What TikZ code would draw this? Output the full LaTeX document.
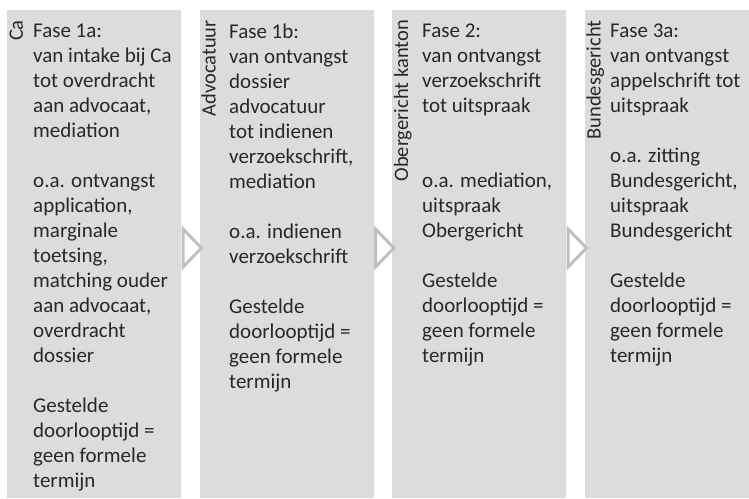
\documentclass[tikz,border=0pt]{standalone}
\usepackage{fontspec}
\setmainfont{Carlito}
\usepackage{tikz}
\usetikzlibrary{positioning, calc}
\definecolor{PhaseGrey}{RGB}{219,220,222}
\definecolor{ChevronGrey}{RGB}{192,192,192}
\definecolor{TextGrey}{RGB}{40,40,40}

\tikzset{
  phasetext/.style={anchor=north west, inner sep=0pt, align=left, text=TextGrey,
    font=\fontsize{21}{25}\selectfont},
  sidelabel/.style={rotate=90, anchor=base east, inner sep=0pt, text=TextGrey,
    font=\fontsize{20.5}{25}\selectfont},
  chevron/.style={draw=ChevronGrey, line width=3pt, line join=miter}
}

\begin{document}
\begin{tikzpicture}[x=1pt, y=1pt]
    \useasboundingbox (0,0) rectangle (749,498);

    % === Column 1 (Ca) ===
    \begin{scope}[shift={(7,0)}]
        \fill[PhaseGrey] (0,0) rectangle (174,488);
        \node[sidelabel] (ca) at (16,478) {Ca};
        \node[phasetext] (fase1a) at (26,474) {Fase 1a:\\van intake bij Ca\\tot overdracht\\aan advocaat,\\mediation\\[25pt]
            o.a. ontvangst\\application,\\marginale\\toetsing,\\matching ouder\\aan advocaat,\\overdracht\\dossier\\[25pt]
            Gestelde\\doorlooptijd =\\geen formele\\termijn};
    \end{scope}

    % === Column 2 (Advocatuur) ===
    \begin{scope}[shift={(199.5,0)}]
        \fill[PhaseGrey] (0,0) rectangle (174,488);
        \node[sidelabel] (advocatuur) at (16,478) {Advocatuur};
        \node[phasetext] (fase1b) at (29.5,474) {Fase 1b:\\van ontvangst\\dossier\\advocatuur\\tot indienen\\verzoekschrift,\\mediation\\[25pt]
            o.a. indienen\\verzoekschrift\\[25pt]
            Gestelde\\doorlooptijd =\\geen formele\\termijn};
    \end{scope}

    % === Column 3 (Obergericht kanton) ===
    \begin{scope}[shift={(392,0)}]
        \fill[PhaseGrey] (0,0) rectangle (174,488);
        \node[sidelabel] (obergericht) at (16,478) {Obergericht kanton};
        \node[phasetext] (fase2) at (30,474) {Fase 2:\\van ontvangst\\verzoekschrift\\tot uitspraak\\[50pt]
            o.a. mediation,\\uitspraak\\Obergericht\\[25pt]
            Gestelde\\doorlooptijd =\\geen formele\\termijn};
    \end{scope}

    % === Column 4 (Bundesgericht) ===
    \begin{scope}[shift={(584.5,0)}]
        \fill[PhaseGrey] (0,0) rectangle (164,488);
        \node[sidelabel] (bundesgericht) at (16,478) {Bundesgericht};
        \node[phasetext] (fase3a) at (25.5,474) {Fase 3a:\\van ontvangst\\appelschrift tot\\uitspraak\\[25pt]
            o.a. zitting\\Bundesgericht,\\uitspraak\\Bundesgericht\\[25pt]
            Gestelde\\doorlooptijd =\\geen formele\\termijn};
    \end{scope}

    % === Chevrons between the phases ===
    \draw[chevron] (183,269) -- (201.5,250) -- (183,231) -- cycle;
    \draw[chevron] (375.5,269) -- (394,250) -- (375.5,231) -- cycle;
    \draw[chevron] (568,269) -- (586.5,250) -- (568,231) -- cycle;

\end{tikzpicture}
\end{document}
